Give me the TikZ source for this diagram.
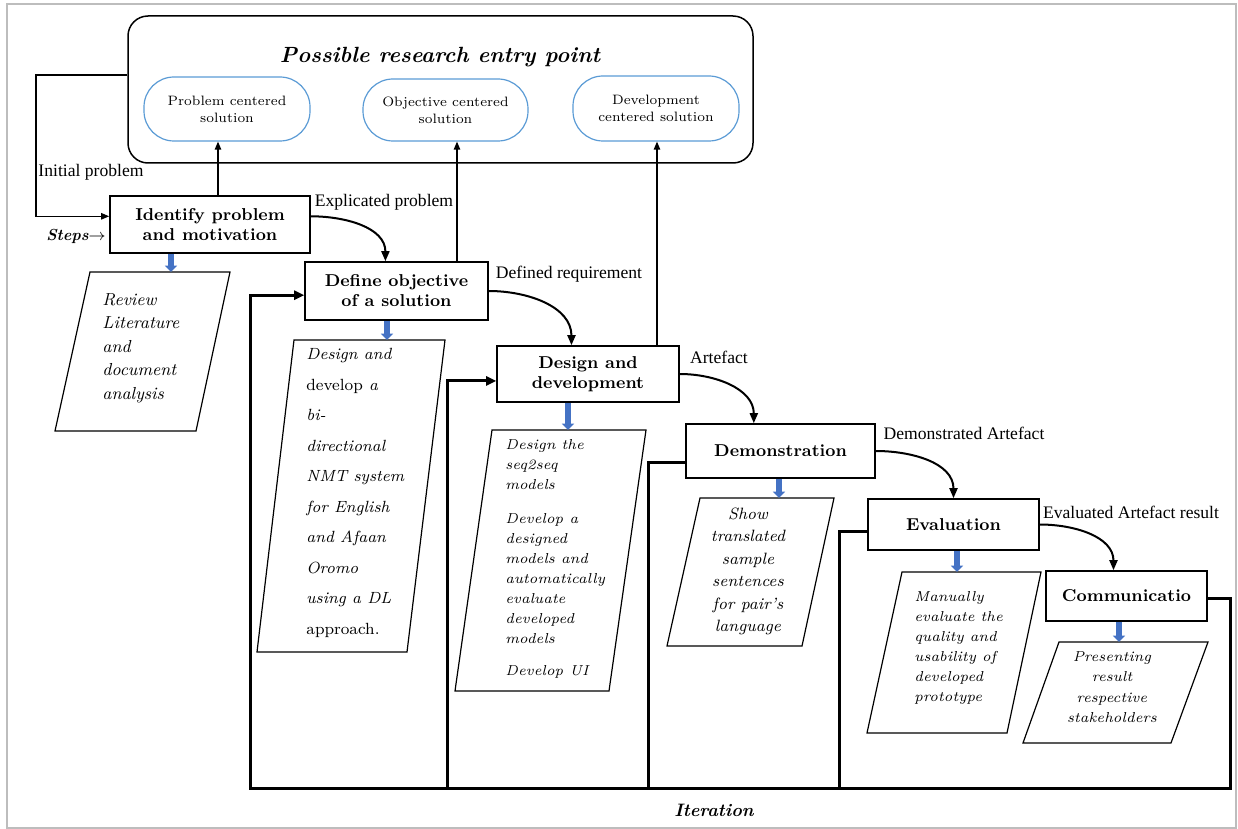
\documentclass[tikz,border=0pt]{standalone}
\usepackage{fontspec}
\newfontfamily\labelfont{Liberation Serif}
\usetikzlibrary{arrows.meta,calc}
\definecolor{ovalblue}{HTML}{5B9BD5}
\definecolor{arrowblue}{HTML}{4472C4}
\definecolor{framegray}{HTML}{BDBDBD}
\begin{document}
\begin{tikzpicture}[x=0.5pt,y=-0.5pt,
  stepbox/.style={draw, line width=0.8pt, align=center, inner sep=1pt,
    font=\fontsize{8.6}{10}\selectfont\bfseries},
  ovalbox/.style={draw=ovalblue, line width=0.6pt, rounded corners=15pt,
    align=center, font=\fontsize{6.8}{8.5}\selectfont},
  edgelabel/.style={inner sep=0pt, font=\labelfont\fontsize{8.8}{10}\selectfont},
  flow/.style={line width=1pt, -{Triangle[length=5pt,width=4pt]}},
  upflow/.style={line width=0.6pt, -{Triangle[length=4pt,width=3.2pt]}},
  loopline/.style={line width=1.5pt, line join=miter},
  loopin/.style={-{Triangle[length=5pt,width=4.5pt]}},
  bluearrow/.style={arrowblue, line width=2.6pt, -{Triangle[length=3.2pt,width=6pt]}},
  notebox/.style={draw, line width=0.6pt},
  notetext/.style={inner sep=0pt, align=left},
]
\useasboundingbox (0,0) rectangle (1238,829);
\draw[framegray, line width=0.8pt] (7,4) rectangle (1236,828);

% research entry panel
\node[draw, line width=0.75pt, rounded corners=10pt, minimum width=312.5pt, minimum height=73.5pt] (entry) at (440.5,89.5) {};
\node[inner sep=0pt, font=\fontsize{11}{13}\selectfont\bfseries\itshape] (entrytitle) at (440,57) {Possible research entry point};
\node[ovalbox, minimum width=83pt, minimum height=32pt] (pcs) at (227,109) {Problem centered\\solution};
\node[ovalbox, minimum width=82.5pt, minimum height=31pt] (ocs) at (445.5,110) {Objective centered\\solution};
\node[ovalbox, minimum width=83pt, minimum height=32.5pt] (dcs) at (656,108.5) {Development\\centered solution};

% process steps
\node[stepbox, minimum width=100pt, minimum height=28.5pt] (identify) at (210,224.5) {Identify problem\\and motivation};
\node[stepbox, minimum width=91.5pt, minimum height=29pt] (define) at (396.5,291) {Define objective\\of a solution};
\node[stepbox, minimum width=91pt, minimum height=28pt] (design) at (588,374) {Design and\\development};
\node[stepbox, minimum width=94.5pt, minimum height=27pt] (demo) at (780.5,451) {Demonstration};
\node[stepbox, minimum width=85.5pt, minimum height=25.5pt] (eval) at (953.5,524.5) {Evaluation};
\node[stepbox, minimum width=80.5pt, minimum height=25pt] (comm) at (1126.5,596) {Communicatio};

% activity notes
\draw[notebox] (90,272) coordinate (revtop) -- (230,272) -- (196,431) -- (55,431) -- cycle;
\node[notetext, anchor=north west, font=\fontsize{8.7}{11.75}\selectfont\itshape] (revtext) at (102,293) {Review\\Literature\\and\\document\\analysis};
\draw[notebox] (294,340) coordinate (deftop) -- (445,340) -- (407,652) -- (257,652) -- cycle;
\node[notetext, anchor=north west, font=\fontsize{8.1}{15.25}\selectfont\itshape] (deftext) at (306,348) {Design and\\{\upshape develop} a\\bi-\\directional\\NMT system\\for English\\and Afaan\\Oromo\\using a DL\\{\upshape approach.}};
\draw[notebox] (492,430) coordinate (destop) -- (646,430) -- (609,691) -- (455,691) -- cycle;
\node[notetext, anchor=north west, font=\fontsize{7.2}{10}\selectfont\itshape] (destext) at (505,439) {Design the\\seq2seq\\models\\[7pt]Develop a\\designed\\models and\\automatically\\evaluate\\developed\\models\\[6pt]Develop UI};
\draw[notebox] (700,498) coordinate (demtop) -- (834,498) -- (802,646) -- (667,646) -- cycle;
\node[notetext, align=center, anchor=north, font=\fontsize{8.2}{11.2}\selectfont\itshape] (demtext) at (748,507.5) {Show\\translated\\sample\\sentences\\for pair’s\\language};
\draw[notebox] (902,572) coordinate (evatop) -- (1041,572) -- (1007,733) -- (867,733) -- cycle;
\node[notetext, anchor=north west, font=\fontsize{7.2}{10}\selectfont\itshape] (evatext) at (914,591) {Manually\\evaluate the\\quality and\\usability of\\developed\\prototype};
\draw[notebox] (1059,642) coordinate (comtop) -- (1208,642) -- (1171,743) -- (1023,743) -- cycle;
\node[notetext, align=center, anchor=north, font=\fontsize{7.2}{10.2}\selectfont\itshape] (comtext) at (1112,651) {Presenting\\result\\respective\\stakeholders};

% labels
\node[edgelabel] (lblinit) at (91,172) {Initial problem};
\node[edgelabel] (lblexp) at (384,202) {Explicated problem};
\node[edgelabel] (lbldef) at (569,274) {Defined requirement};
\node[edgelabel] (lblart) at (719,357) {Artefact};
\node[edgelabel] (lbldem) at (964,433) {Demonstrated Artefact};
\node[edgelabel] (lbleva) at (1131,512) {Evaluated Artefact result};
\node[inner sep=0pt, font=\fontsize{8}{10}\selectfont\bfseries\itshape] (steps) at (76,236) {Steps$\rightarrow$};
\node[inner sep=0pt, font=\fontsize{9}{11}\selectfont\bfseries\itshape] (iter) at (714,810) {Iteration};

% initial problem feed
\coordinate (initcorner) at (36,75);
\coordinate (idin) at ($(identify.north west)!0.36!(identify.south west)$);
\draw[upflow] (entry.west |- initcorner) -- (initcorner) |- (idin);

% entry point links
\coordinate (upA) at (218,0);
\coordinate (upB) at (457,0);
\coordinate (upC) at (657,0);
\draw[upflow] (identify.north -| upA) -- (pcs.south -| upA);
\draw[upflow] (define.north -| upB) -- (ocs.south -| upB);
\draw[upflow] (design.north -| upC) -- (dcs.south -| upC);

% step-to-step flow
\draw[flow] ($(identify.north east)!0.36!(identify.south east)$) to[out=0,in=90] ($(define.north west)!0.44!(define.north east)$);
\draw[flow] (define.east) to[out=0,in=90] ($(design.north west)!0.41!(design.north east)$);
\draw[flow] (design.east) to[out=0,in=90] ($(demo.north west)!0.36!(demo.north east)$);
\draw[flow] (demo.east) to[out=0,in=90] (eval.north);
\draw[flow] (eval.east) to[out=0,in=90] ($(comm.north west)!0.42!(comm.north east)$);

% iteration loop
\coordinate (loopA) at (250,788);
\coordinate (loopB) at (447,788);
\coordinate (loopC) at (648,788);
\coordinate (loopD) at (839,788);
\coordinate (loopE) at (1230,788);
\draw[loopline, loopin] ($(comm.north east)!0.54!(comm.south east)$) -| (loopE) -- (loopA) |- ($(define.north west)!0.57!(define.south west)$);
\draw[loopline, loopin] (loopB) |- ($(design.north west)!0.62!(design.south west)$);
\draw[loopline] (loopC) |- ($(demo.north west)!0.7!(demo.south west)$);
\draw[loopline] (loopD) |- ($(eval.north west)!0.63!(eval.south west)$);

% activity arrows
\coordinate (bA) at (171,0);
\coordinate (bB) at (387,0);
\coordinate (bC) at (568,0);
\coordinate (bD) at (779,0);
\coordinate (bE) at (957,0);
\coordinate (bF) at (1119,0);
\draw[bluearrow] (identify.south -| bA) -- (revtop -| bA);
\draw[bluearrow] (define.south -| bB) -- (deftop -| bB);
\draw[bluearrow] (design.south -| bC) -- (destop -| bC);
\draw[bluearrow] (demo.south -| bD) -- (demtop -| bD);
\draw[bluearrow] (eval.south -| bE) -- (evatop -| bE);
\draw[bluearrow] (comm.south -| bF) -- (comtop -| bF);
\end{tikzpicture}
\end{document}
